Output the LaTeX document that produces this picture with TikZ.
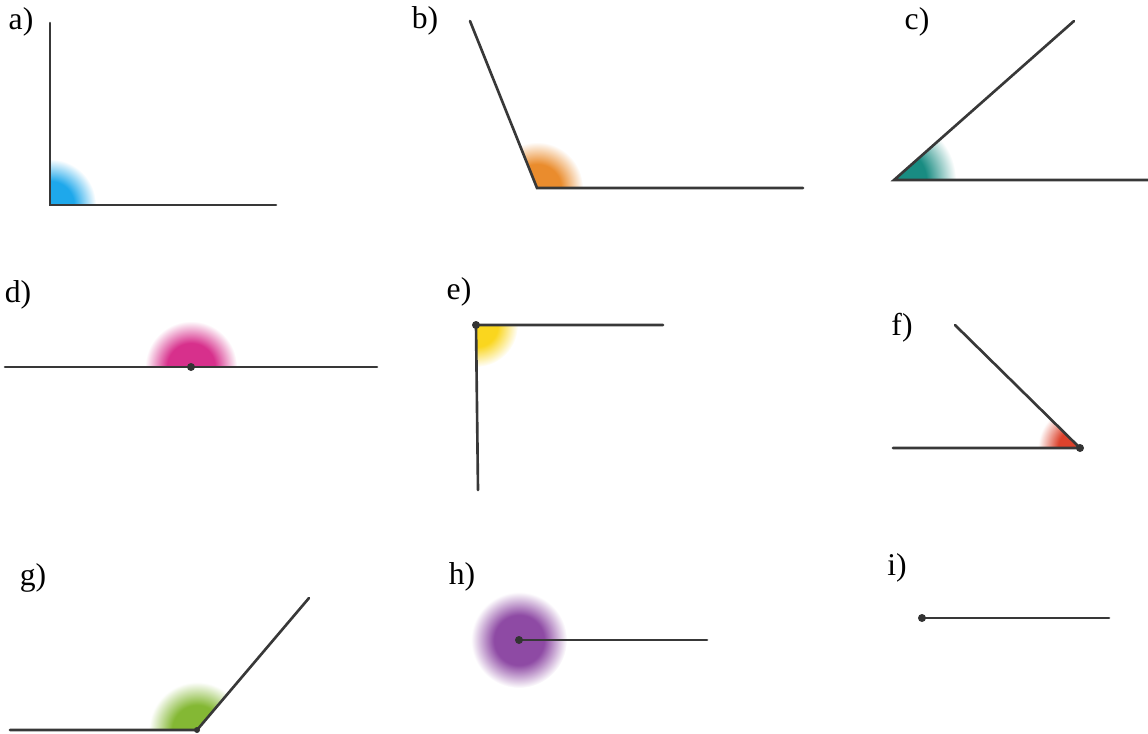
\documentclass[tikz,border=0pt]{standalone}
\usepackage{fontspec}
\setmainfont{Liberation Serif}

\definecolor{spotblue}{RGB}{30,168,235}
\definecolor{spotorange}{RGB}{234,140,45}
\definecolor{spotteal}{RGB}{25,140,130}
\definecolor{spotpink}{RGB}{215,48,140}
\definecolor{spotyellow}{RGB}{250,214,30}
\definecolor{spotred}{RGB}{220,66,44}
\definecolor{spotgreen}{RGB}{132,184,52}
\definecolor{spotpurple}{RGB}{142,74,164}
\colorlet{spotcol}{spotblue}

% soft spot: full colour in the middle, white at its rim
\pgfdeclareradialshading[spotcol]{softspot}{\pgfpoint{0bp}{0bp}}{%
  color(0bp)=(spotcol); color(13bp)=(spotcol); color(25bp)=(white); color(50bp)=(white)}

% coloured corner of an angle: vertex, start angle, end angle, radius, colour
\newcommand{\anglespot}[5]{%
  \begin{scope}
    \colorlet{spotcol}{#5}
    \clip (#1) -- ++(#2:{1.3*#4}) arc[start angle=#2, end angle=#3, radius={1.3*#4}] -- cycle;
    \shade[shading=softspot] (#1) circle (#4);
  \end{scope}}

\begin{document}
\begin{tikzpicture}[x=0.01cm, y=0.01cm,
    ray/.style={draw=black!78, line width=0.75pt, line cap=round},
    lbl/.style={font=\fontsize{9}{10}\selectfont, inner sep=0pt},
    vtx/.style={fill=black!80}]
        \useasboundingbox (0,0) rectangle (1148,-733);

        % --- a) ---
        \node[lbl] (la) at (21,-22) {a)};
        \coordinate (Oa) at (50,-205);
        \coordinate (Aa) at (50,-23);
        \coordinate (Ba) at (276,-205);
        \anglespot{Oa}{0}{90}{46}{spotblue}
        \draw[ray] (Aa) -- (Oa) -- (Ba);

        % --- b) ---
        \node[lbl] (lb) at (425,-21) {b)};
        \coordinate (Ob) at (537,-188);
        \coordinate (Ab) at (470,-21);
        \coordinate (Bb) at (803,-188);
        \anglespot{Ob}{0}{112}{46}{spotorange}
        \draw[ray] (Ab) -- (Ob) -- (Bb);

        % --- c) ---
        \node[lbl] (lc) at (917,-22) {c)};
        \coordinate (Oc) at (894,-180);
        \coordinate (Ac) at (1074,-21);
        \coordinate (Bc) at (1148,-180);
        \anglespot{Oc}{0}{41.5}{62}{spotteal}
        \draw[ray] (Ac) -- (Oc) -- (Bc);

        % --- d) ---
        \node[lbl] (ld) at (18,-295) {d)};
        \coordinate (Od) at (191,-367);
        \coordinate (Ad) at (5,-367);
        \coordinate (Bd) at (377,-367);
        \anglespot{Od}{0}{180}{46}{spotpink}
        \draw[ray] (Ad) -- (Bd);
        \fill[vtx] (Od) circle (4);

        % --- e) ---
        \node[lbl] (le) at (459,-292) {e)};
        \coordinate (Oe) at (476,-325);
        \coordinate (Ae) at (663,-325);
        \coordinate (Be) at (478,-490);
        \anglespot{Oe}{-90}{0}{42}{spotyellow}
        \draw[ray] (Ae) -- (Oe) -- (Be);
        \fill[vtx] (Oe) circle (4);

        % --- f) ---
        \node[lbl] (lf) at (902,-328) {f)};
        \coordinate (Of) at (1080,-448);
        \coordinate (Af) at (955,-325);
        \coordinate (Bf) at (893,-448);
        \anglespot{Of}{135.5}{180}{42}{spotred}
        \draw[ray] (Af) -- (Of) -- (Bf);
        \fill[vtx] (Of) circle (4);

        % --- g) ---
        \node[lbl] (lg) at (33,-578) {g)};
        \coordinate (Og) at (197,-730);
        \coordinate (Ag) at (309,-598);
        \coordinate (Bg) at (10,-730);
        \anglespot{Og}{50}{180}{48}{spotgreen}
        \draw[ray] (Ag) -- (Og) -- (Bg);
        \fill[vtx] (Og) circle (3);

        % --- h) ---
        \node[lbl] (lh) at (462,-577) {h)};
        \coordinate (Oh) at (519,-640);
        \coordinate (Bh) at (707,-640);
        \anglespot{Oh}{0}{360}{48}{spotpurple}
        \draw[ray] (Oh) -- (Bh);
        \fill[vtx] (Oh) circle (4);

        % --- i) ---
        \node[lbl] (li) at (897,-568) {i)};
        \coordinate (Oi) at (922,-618);
        \coordinate (Bi) at (1109,-618);
        \draw[ray] (Oi) -- (Bi);
        \fill[vtx] (Oi) circle (4);
\end{tikzpicture}
\end{document}
